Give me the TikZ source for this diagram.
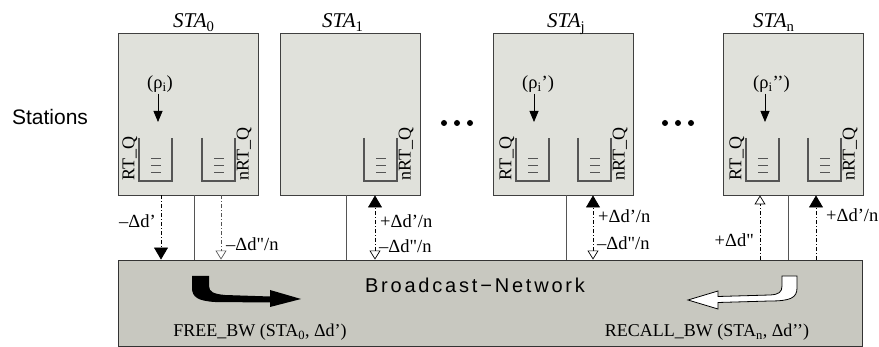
\documentclass[tikz,border=0pt]{standalone}
\usepackage{fontspec}
\setmainfont{Liberation Serif}[Ligatures=TeXOff]
\newfontfamily\sansarial{Liberation Sans}
\usetikzlibrary{arrows.meta}

\definecolor{grigiosta}{RGB}{224,225,219}
\definecolor{grigiorete}{RGB}{200,200,192}
\definecolor{grigiolinea}{RGB}{85,85,85}

\tikzset{
  stabox/.style={draw=black!75, line width=0.9pt, fill=grigiosta, minimum width=140pt, minimum height=162pt, inner sep=0pt},
  netbox/.style={draw=black!80, line width=0.9pt, fill=grigiorete, minimum width=744pt, minimum height=86pt, inner sep=0pt},
  coda/.style={draw=grigiolinea, line width=1.4pt},
  bus/.style={draw=grigiolinea, line width=0.8pt},
  tratto/.style={line width=0.7pt, dash pattern=on 4pt off 2pt on 1pt off 2pt},
  pieno/.style={-{Triangle[length=12pt,width=14pt]}},
  vuoto/.style={-{Triangle[open,length=9pt,width=11pt]}},
  doppia/.style={{Triangle[open,length=9pt,width=11pt]}-{Triangle[length=12pt,width=14pt]}},
  freccina/.style={line width=0.8pt, -{Triangle[length=11pt,width=9pt]}},
  etich/.style={font=\fontsize{18.5}{20}\selectfont, inner sep=1pt},
  stitle/.style={font=\fontsize{21}{23}\selectfont, inner sep=0pt},
  qlabel/.style={font=\fontsize{18}{20}\selectfont, inner sep=0.5pt, rotate=90},
}

\begin{document}
\begin{tikzpicture}[x=1pt, y=-1pt]
  \useasboundingbox (0,0) rectangle (879,347);

  % Stazioni e rete
  \node[stabox] (sta0) at (188,114) {};
  \node[stabox] (sta1) at (350.5,114) {};
  \node[stabox] (staj) at (563,114) {};
  \node[stabox] (stan) at (793,114) {};
  \node[netbox] (bnet) at (490,303) {};

  \node[stitle, anchor=base west] (t0) at (173,28) {\textit{STA}\textsubscript{0}};
  \node[stitle, anchor=base west] (t1) at (322,28) {\textit{STA}\textsubscript{1}};
  \node[stitle, anchor=base west] (tj) at (547,28) {\textit{STA}\textsubscript{j}};
  \node[stitle, anchor=base west] (tn) at (753,28) {\textit{STA}\textsubscript{n}};

  \node[font=\sansarial\fontsize{21}{24}\selectfont] (stlbl) at (50,117) {Stations};
  \node[font=\sansarial\fontsize{20}{24}\selectfont] (bnetlbl) at (475,285) {\addfontfeature{LetterSpace=14}Broadcast−Network};

  % Puntini
  \foreach \x in {444,457,470,665,678,691}
    \fill (\x,123) circle[radius=3pt];

  % Code RT_Q e nRT_Q
  \foreach \x in {139,202,364,516,578,746,808} {
    \draw[coda] (\x,138) -- (\x,181) -- (\x+33,181) -- (\x+33,138);
    \foreach \y in {158,165,172}
      \draw[grigiolinea, line width=0.7pt] (\x+12,\y) -- (\x+22,\y);
  }
  \foreach \x/\n in {139/q0, 516/qj, 746/qn}
    \node[qlabel, anchor=south west] (\n) at (\x-1,181) {RT\_Q};
  \foreach \x/\n in {235/n0, 397/n1, 611/nj, 841/nn}
    \node[qlabel, anchor=north west] (\n) at (\x+1,181) {nRT\_Q};

  % Traffico in ingresso
  \node[etich, anchor=west] (rho0) at (146,84) {(ρ\textsubscript{i})};
  \node[etich, anchor=west] (rhoj) at (521,84) {(ρ\textsubscript{i}’)};
  \node[etich, anchor=west] (rhon) at (752,84) {(ρ\textsubscript{i}’’)};
  \coordinate (in0) at (158,122);
  \coordinate (inj) at (534,122);
  \coordinate (inn) at (765,122);
  \draw[freccina] (158,0 |- rho0.south) -- (in0);
  \draw[freccina] (534,0 |- rhoj.south) -- (inj);
  \draw[freccina] (765,0 |- rhon.south) -- (inn);

  % Collegamenti verso la rete
  \foreach \s/\x in {sta0/194, sta1/346, staj/566, stan/788}
    \draw[bus] (\x,0 |- \s.south) -- (\x,0 |- bnet.north);

  \draw[tratto, pieno] (161,0 |- sta0.south) -- (161,0 |- bnet.north);
  \draw[tratto, vuoto, grigiolinea] (221,0 |- sta0.south) -- (221,0 |- bnet.north);
  \draw[tratto, doppia] (375,0 |- bnet.north) -- (375,0 |- sta1.south);
  \draw[tratto, doppia] (593,0 |- bnet.north) -- (593,0 |- staj.south);
  \draw[tratto, vuoto] (760,0 |- bnet.north) -- (760,0 |- stan.south);
  \draw[tratto, pieno] (816,0 |- bnet.north) -- (816,0 |- stan.south);

  \node[etich, anchor=east] (d0a) at (157,221) {–Δd’};
  \node[etich, anchor=west] (d0b) at (225,244) {–Δd"/n};
  \node[etich, anchor=west] (d1a) at (379,221) {+Δd’/n};
  \node[etich, anchor=west] (d1b) at (378,246) {–Δd"/n};
  \node[etich, anchor=west] (dja) at (597,216) {+Δd’/n};
  \node[etich, anchor=west] (djb) at (596,243) {–Δd"/n};
  \node[etich, anchor=east] (dna) at (755,240) {+Δd"};
  \node[etich, anchor=west] (dnb) at (825,215) {+Δd’/n};

  % Frecce FREE_BW e RECALL_BW
  \fill (192,276) -- (209,276) -- (209,286) .. controls (209,292) and (214,294) .. (225,295)
    -- (270,296.5) -- (270,290) -- (301,299) -- (270,307) -- (270,302.5) -- (215,302)
    .. controls (198,301) and (192,297) .. (192,288) -- cycle;
  \filldraw[fill=white, draw=black, line width=0.8pt] (782,276) -- (797,276) -- (797,288)
    .. controls (797,298) and (790,301) .. (770,301) -- (718,302.5) -- (718,309) -- (688,300)
    -- (718,291) -- (718,296.5) -- (770,295) .. controls (779,294.5) and (782,292) .. (782,286) -- cycle;

  \node[etich, font=\fontsize{18}{20}\selectfont, anchor=base] (freelbl) at (260,337) {FREE\_BW (STA\textsubscript{0}, Δd’)};
  \node[etich, font=\fontsize{18}{20}\selectfont, anchor=base] (recalllbl) at (707,337) {RECALL\_BW (STA\textsubscript{n}, Δd’’)};
\end{tikzpicture}
\end{document}
